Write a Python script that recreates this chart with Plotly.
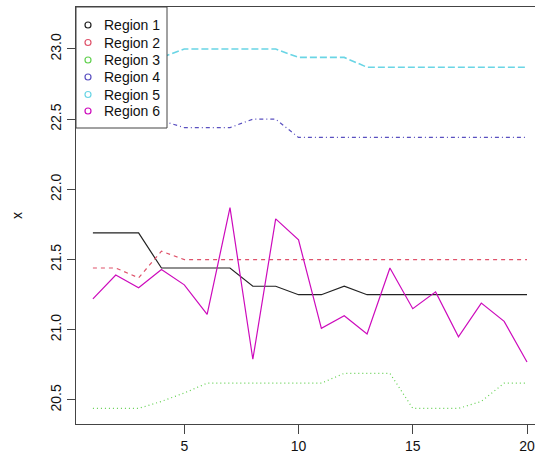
import plotly.graph_objects as go

# ---- data ----
t = list(range(1, 21))
region_names = ["Region 1", "Region 2", "Region 3", "Region 4", "Region 5", "Region 6"]
region1 = [21.69, 21.69, 21.69, 21.44, 21.44, 21.44, 21.44, 21.31, 21.31, 21.25,
           21.25, 21.31, 21.25, 21.25, 21.25, 21.25, 21.25, 21.25, 21.25, 21.25]
region2 = [21.44, 21.44, 21.37, 21.56, 21.50, 21.50, 21.50, 21.50, 21.50, 21.50,
           21.50, 21.50, 21.50, 21.50, 21.50, 21.50, 21.50, 21.50, 21.50, 21.50]
region3 = [20.44, 20.44, 20.44, 20.49, 20.55, 20.62, 20.62, 20.62, 20.62, 20.62,
           20.62, 20.69, 20.69, 20.69, 20.44, 20.44, 20.44, 20.49, 20.62, 20.62]
region4 = [22.50, 22.50, 22.50, 22.49, 22.44, 22.44, 22.44, 22.50, 22.50, 22.37,
           22.37, 22.37, 22.37, 22.37, 22.37, 22.37, 22.37, 22.37, 22.37, 22.37]
region5 = [22.94, 22.94, 22.94, 22.94, 23.00, 23.00, 23.00, 23.00, 23.00, 22.94,
           22.94, 22.94, 22.87, 22.87, 22.87, 22.87, 22.87, 22.87, 22.87, 22.87]
region6 = [21.22, 21.39, 21.30, 21.43, 21.32, 21.11, 21.87, 20.79, 21.79, 21.64,
           21.01, 21.10, 20.97, 21.44, 21.15, 21.27, 20.95, 21.19, 21.06, 20.77]
series = [region1, region2, region3, region4, region5, region6]

x_ticks = [5, 10, 15, 20]
y_ticks = [20.5, 21.0, 21.5, 22.0, 22.5, 23.0]
y_label = "x"

# ---- styles ----
colors = ["#222222", "#DF536B", "#61D04F", "#5A50C0", "#6AD5E5", "#CD0BBC"]
dashes = ["solid", "4px,4px", "1px,3px", "1px,3px,4px,3px", "7px,3px", "solid"]
widths = [1.2, 1.2, 1.2, 1.2, 1.6, 1.2]

FONT = "Liberation Sans, Arial, Helvetica, sans-serif"

fig = go.Figure()
for name, vals, c, d, w in zip(region_names, series, colors, dashes, widths):
    fig.add_trace(go.Scatter(x=t, y=vals, mode="lines", name=name,
                             line=dict(color=c, dash=d, width=w),
                             showlegend=False))

W, H = 535, 457
ml, mr, mt, mb = 76, 0, 7, 33
pw, ph = W - ml - mr, H - mt - mb

def px_x(p):
    return (p - ml) / pw

def px_y(p):
    return 1 - (p - mt) / ph

shapes = []
annotations = []
# legend box
shapes.append(dict(type="rect", xref="paper", yref="paper",
                   x0=px_x(76), x1=px_x(167), y0=px_y(128), y1=px_y(7),
                   fillcolor="white", line=dict(color="#444444", width=1),
                   layer="above"))
row_y = [25, 42.5, 60, 77, 94.5, 111]
for name, c, ry in zip(region_names, colors, row_y):
    shapes.append(dict(type="circle", xref="paper", yref="paper",
                       xsizemode="pixel", ysizemode="pixel",
                       xanchor=px_x(88), yanchor=px_y(ry),
                       x0=-3, x1=3, y0=-3, y1=3,
                       line=dict(color=c, width=1.2), fillcolor="rgba(0,0,0,0)",
                       layer="above"))
    annotations.append(dict(text=name, xref="paper", yref="paper",
                            x=px_x(102), y=px_y(ry), xanchor="left", yanchor="middle",
                            showarrow=False, font=dict(family=FONT, size=14, color="#111111")))

annotations.append(dict(text=y_label, xref="paper", yref="paper",
                        x=px_x(17), y=px_y(216), xanchor="center", yanchor="middle",
                        textangle=-90, showarrow=False,
                        font=dict(family=FONT, size=14, color="#111111")))

fig.update_layout(
    width=W, height=H,
    margin=dict(l=ml, r=mr, t=mt, b=mb, pad=0),
    paper_bgcolor="white", plot_bgcolor="white",
    showlegend=False,
    font=dict(family=FONT, size=14, color="#111111"),
    shapes=shapes, annotations=annotations,
    xaxis=dict(range=[0.26, 20.35], tickvals=x_ticks, ticktext=[str(v) for v in x_ticks],
               showgrid=False, zeroline=False, showline=True, mirror=True,
               linecolor="#444444", linewidth=1,
               ticks="outside", ticklen=9, tickcolor="#444444", tickwidth=1,
               tickfont=dict(family=FONT, size=14, color="#111111")),
    yaxis=dict(range=[20.329, 23.299], tickvals=y_ticks, tickformat=".1f",
               showgrid=False, zeroline=False, showline=True, mirror=False,
               linecolor="#444444", linewidth=1,
               ticks="outside", ticklen=8, tickcolor="#444444", tickwidth=1,
               tickangle=-90,
               tickfont=dict(family=FONT, size=14, color="#111111")),
)

fig.write_html("out.html",
               config={"displayModeBar": False},
               post_script="document.body.style.margin='0';document.body.style.overflow='hidden';")
